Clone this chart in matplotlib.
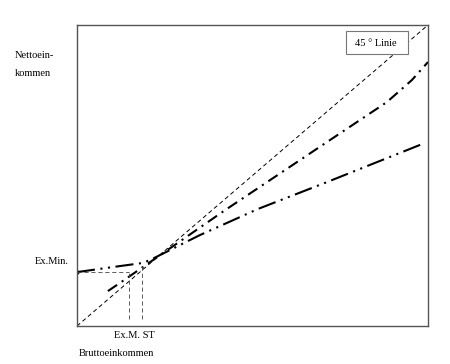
import matplotlib
matplotlib.use("Agg")
import matplotlib.pyplot as plt
from matplotlib.patches import Rectangle

plt.rcParams['font.family'] = ['Liberation Serif', 'DejaVu Serif']
plt.rcParams['lines.scale_dashes'] = False

# data (normalised gross income x, net income y)
diag_x = [0.0, 1.0]
diag_y = [0.0, 1.0]

upper_x = [0.088, 0.131, 0.422, 0.712, 0.883, 0.954, 1.0]
upper_y = [0.116, 0.150, 0.385, 0.611, 0.744, 0.817, 0.877]

lower_x = [0.0, 0.103, 0.185, 0.208, 0.350, 0.516, 0.712, 0.991]
lower_y = [0.179, 0.196, 0.209, 0.219, 0.302, 0.389, 0.478, 0.608]

ex_min = 0.179
ex_m_x = 0.148
st_x = 0.185
guide_bottom = 0.023
ex_m_top = 0.18
st_top = 0.20

fig = plt.figure(figsize=(4.5, 3.64), dpi=100)
ax = fig.add_axes([77 / 450, 1 - 326 / 364, 351 / 450, 301 / 364])

ax.plot(diag_x, diag_y, color='black', lw=0.7, linestyle=(0, (3, 2.2)))
ax.plot(upper_x, upper_y, color='black', lw=1.5, linestyle=(0, (8, 4, 1.5, 4)))
ax.plot(lower_x, lower_y, color='black', lw=1.5,
        linestyle=(0, (13, 4, 1.5, 4, 1.5, 4)))
ax.plot([0], [ex_min], marker='o', ms=2, color='black')

# helper lines
ax.plot([0, ex_m_x], [ex_min, ex_min], color='#444444', lw=0.6, linestyle=(0, (3, 2)))
ax.plot([ex_m_x, ex_m_x], [guide_bottom, ex_m_top], color='#444444', lw=0.6, linestyle=(0, (3, 2)))
ax.plot([st_x, st_x], [guide_bottom, st_top], color='#444444', lw=0.6, linestyle=(0, (3, 2)))

ax.set_xlim(0, 1)
ax.set_ylim(0, 1)
ax.set_xticks([])
ax.set_yticks([])
for s in ax.spines.values():
    s.set_color('#555555')
    s.set_linewidth(1.0)

fs = 7.5
fig.text(15 / 450, 1 - 55 / 364, 'Nettoein-', fontsize=fs, va='center', ha='left')
fig.text(15 / 450, 1 - 74 / 364, 'kommen', fontsize=fs, va='center', ha='left')
fig.text(69 / 450, 1 - 262 / 364, 'Ex.Min.', fontsize=fs, va='center', ha='right')
fig.text(134 / 450, 1 - 336 / 364, 'Ex.M. ST', fontsize=fs, va='center', ha='center')
fig.text(79 / 450, 1 - 354 / 364, 'Bruttoeinkommen', fontsize=fs, va='center', ha='left')

fig.patches.append(Rectangle((346 / 450, 1 - 54 / 364), 62 / 450, 23 / 364,
                             transform=fig.transFigure, facecolor='white',
                             edgecolor='#777777', lw=0.8, zorder=5))
fig.text(376 / 450, 1 - 43 / 364, '45 ° Linie', fontsize=fs, va='center', ha='center', zorder=6)

fig.savefig('out.png', dpi=100)
